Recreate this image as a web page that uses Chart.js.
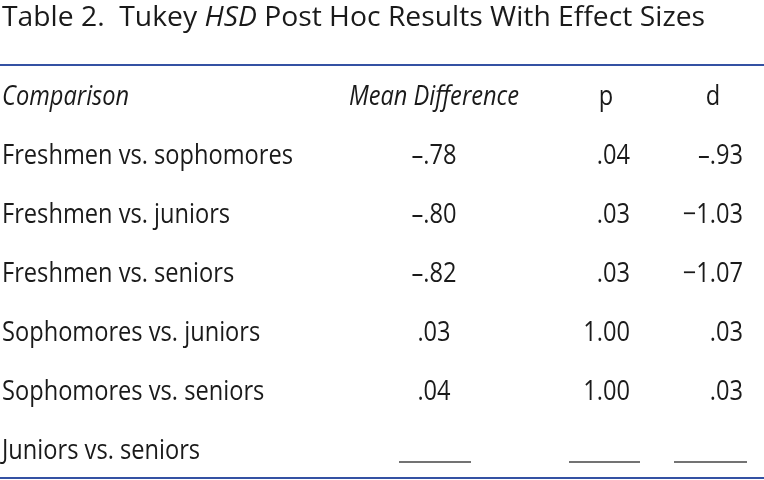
<!DOCTYPE html>
<html>
<head>
<meta charset="utf-8">
<script src="https://cdn.jsdelivr.net/npm/chart.js@4"></script>
<style>
  html, body { margin: 0; padding: 0; background: #fff; }
  canvas { display: block; }
</style>
</head>
<body>
<canvas id="tbl" width="764" height="480"></canvas>
<script>
// table data
const comparisons = ['Freshmen vs. sophomores', 'Freshmen vs. juniors', 'Freshmen vs. seniors',
  'Sophomores vs. juniors', 'Sophomores vs. seniors', 'Juniors vs. seniors'];
const meanDiff = [-0.78, -0.80, -0.82, 0.03, 0.04, null];
const pValues = [0.04, 0.03, 0.03, 1.00, 1.00, null];
const dValues = [-0.93, -1.03, -1.07, 0.03, 0.03, null];
const headers = ['Comparison', 'Mean Difference', 'p', 'd'];
const titleParts = [['Table 2.  Tukey ', false], ['HSD', true], [' Post Hoc Results With Effect Sizes', false]];

const FONT = '"Open Sans", "Noto Sans", sans-serif';
const INK = '#1a1a1a';
const RULE = '#3451a3';

// column anchors (x pixels on a 0..764 linear scale)
const cols = [
  { vals: meanDiff, x: 434, align: 'center', hx: 434, blank: [399, 471] },
  { vals: pValues, x: 630, align: 'right', hx: 606, blank: [569, 640] },
  { vals: dValues, x: 743, align: 'right', hx: 713, blank: [674, 747] }
];

// APA style: no leading zero, dash for negatives
function fmt(v) {
  const a = Math.abs(v);
  let s = a.toFixed(2);
  if (a < 1) s = s.replace(/^0/, '');
  if (v < 0) s = (a < 1 ? '\u2013' : '\u2212') + s;
  return s;
}

function txt(ctx, s, x, y, align, italic, size, sx) {
  ctx.save();
  ctx.font = (italic ? 'italic ' : '') + size + 'px ' + FONT;
  ctx.fillStyle = INK;
  ctx.textAlign = align;
  ctx.textBaseline = 'alphabetic';
  ctx.translate(x, y);
  ctx.scale(sx, 1);
  ctx.fillText(s, 0, 0);
  const w = ctx.measureText(s).width * sx;
  ctx.restore();
  return w;
}

function widthOf(ctx, parts, size) {
  let w = 0;
  parts.forEach(([s, it]) => {
    ctx.font = (it ? 'italic ' : '') + size + 'px ' + FONT;
    w += ctx.measureText(s).width;
  });
  return w;
}

const tablePlugin = {
  id: 'tablePlugin',
  afterDraw(chart) {
    const ctx = chart.ctx;
    const xs = chart.scales.x, ys = chart.scales.y;
    ctx.save();
    const S = 27, TS = 28;
    const sx = 291 / widthOf(ctx, [['Freshmen vs. sophomores', false]], S);
    const tsx = 703 / widthOf(ctx, titleParts, TS);

    // title
    let tx = xs.getPixelForValue(2);
    titleParts.forEach(([s, it]) => { tx += txt(ctx, s, tx, 26, 'left', it, TS, tsx); });

    // rules
    ctx.strokeStyle = RULE;
    ctx.lineWidth = 2;
    ctx.beginPath();
    ctx.moveTo(xs.getPixelForValue(0), 65); ctx.lineTo(xs.getPixelForValue(764), 65);
    ctx.moveTo(xs.getPixelForValue(0), 478); ctx.lineTo(xs.getPixelForValue(764), 478);
    ctx.stroke();

    // header row
    const hy = ys.getPixelForValue(0);
    txt(ctx, headers[0], xs.getPixelForValue(2), hy, 'left', true, S, sx);
    txt(ctx, headers[1], xs.getPixelForValue(cols[0].hx), hy, 'center', true, S, sx);
    txt(ctx, headers[2], xs.getPixelForValue(cols[1].hx), hy, 'center', false, S, sx);
    txt(ctx, headers[3], xs.getPixelForValue(cols[2].hx), hy, 'center', false, S, sx);

    // body rows
    comparisons.forEach((c, i) => {
      const y = ys.getPixelForValue(i + 1);
      txt(ctx, c, xs.getPixelForValue(2), y, 'left', false, S, sx);
      cols.forEach(col => {
        const v = col.vals[i];
        if (v === null) {
          ctx.strokeStyle = '#444';
          ctx.lineWidth = 1.6;
          ctx.beginPath();
          ctx.moveTo(xs.getPixelForValue(col.blank[0]), y + 3);
          ctx.lineTo(xs.getPixelForValue(col.blank[1]), y + 3);
          ctx.stroke();
        } else {
          txt(ctx, fmt(v), xs.getPixelForValue(col.x), y, col.align, false, S, sx);
        }
      });
    });
    ctx.restore();
  }
};

new Chart(document.getElementById('tbl'), {
  type: 'scatter',
  data: { datasets: [] },
  options: {
    responsive: false,
    animation: false,
    devicePixelRatio: 1,
    layout: { padding: { left: 0, right: 0, top: 105, bottom: 21 } },
    plugins: { legend: { display: false }, tooltip: { enabled: false }, title: { display: false } },
    scales: {
      x: { type: 'linear', min: 0, max: 764, display: false },
      y: { type: 'category', labels: ['header', ...comparisons], offset: false, display: false }
    }
  },
  plugins: [tablePlugin]
});
</script>
</body>
</html>
